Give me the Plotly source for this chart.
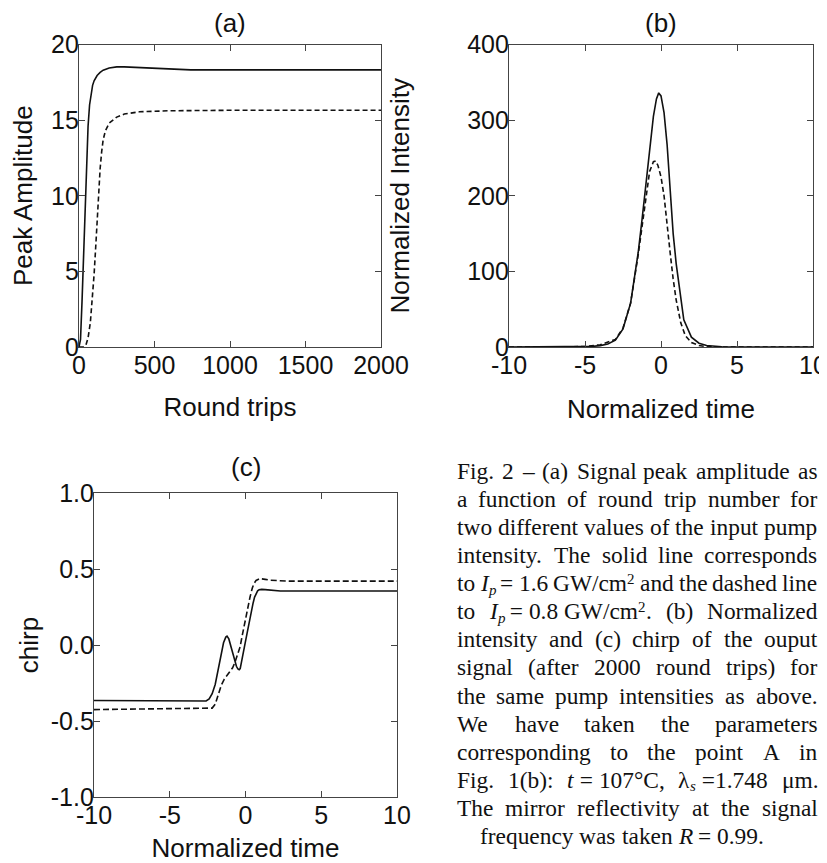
import re
import plotly.graph_objects as go

# The page body keeps the browser's default 8px margin, so the figure is 8px smaller
# than the 827x863 window and every layout position is measured from the window corner.
WIN_W, WIN_H, OFF = 827, 863, 8
W, H = WIN_W - OFF, WIN_H - OFF

# ---------------- data ----------------
# (a) peak amplitude vs round trips
a_rt_solid = [0, 10, 20, 30, 40, 50, 60, 70, 80, 90, 100, 120, 140, 160, 200, 250, 300,
              400, 500, 600, 700, 720, 740, 1000, 1500, 2000]
a_amp_solid = [0, 0.5, 3.0, 6.0, 9.2, 12.2, 14.6, 16.0, 16.8, 17.3, 17.6, 17.95, 18.15,
               18.3, 18.45, 18.52, 18.52, 18.47, 18.42, 18.38, 18.36, 18.34, 18.32,
               18.32, 18.32, 18.32]
a_rt_dash = [0, 30, 45, 60, 75, 90, 100, 110, 120, 130, 140, 150, 160, 175, 200, 250,
             300, 400, 600, 1000, 2000]
a_amp_dash = [0, 0, 0.1, 0.6, 1.6, 3.3, 4.8, 6.5, 8.5, 10.3, 11.8, 12.9, 13.7, 14.3,
              14.8, 15.2, 15.4, 15.55, 15.62, 15.65, 15.65]

# (b) normalized intensity vs normalized time
b_t_solid = [-10, -6, -5, -4.5, -4, -3.5, -3, -2.5, -2, -1.5, -1.25, -1, -0.75, -0.5,
             -0.3, -0.15, 0, 0.2, 0.4, 0.6, 0.8, 1.0, 1.25, 1.5, 2, 2.5, 3, 3.5, 4, 5, 10]
b_int_solid = [0, 0, 0.3, 0.8, 1.8, 4, 9, 24, 58, 125, 168, 215, 262, 305, 328, 336,
               332, 310, 268, 205, 150, 110, 72, 36, 13, 5, 2, 0.8, 0.3, 0, 0]
b_t_dash = [-10, -5, -4, -3.5, -3, -2.5, -2, -1.5, -1.25, -1, -0.75, -0.5, -0.35, -0.2,
            0, 0.2, 0.4, 0.6, 0.8, 1.0, 1.3, 1.6, 2, 2.5, 3, 4, 10]
b_int_dash = [0, 0.5, 3, 6, 10, 25, 58, 122, 160, 200, 232, 245, 246, 240, 225, 200,
              160, 125, 90, 62, 32, 15, 6, 2, 0.5, 0, 0]

# (c) chirp vs normalized time
c_t_solid = [-10, -5, -3, -2.6, -2.4, -2.2, -2.0, -1.8, -1.6, -1.45, -1.3, -1.22, -1.1,
             -1.0, -0.9, -0.8, -0.7, -0.6, -0.5, -0.42, -0.35, -0.25, -0.15, -0.03, 0.1,
             0.2, 0.3, 0.4, 0.5, 0.6, 0.7, 0.8, 0.9, 1.07, 1.3, 1.6, 2.0, 2.3, 3, 10]
c_chirp_solid = [-0.365, -0.37, -0.37, -0.368, -0.355, -0.32, -0.26, -0.16, -0.05, 0.015,
                 0.052, 0.058, 0.04, 0.005, -0.04, -0.08, -0.115, -0.14, -0.158, -0.163,
                 -0.155, -0.11, -0.05, 0.009, 0.075, 0.13, 0.184, 0.23, 0.275, 0.315,
                 0.342, 0.356, 0.363, 0.366, 0.364, 0.36, 0.358, 0.355, 0.355, 0.355]
c_t_dash = [-10, -5, -2.5, -2.2, -2.0, -1.8, -1.6, -1.4, -1.2, -1.0, -0.85, -0.7, -0.5,
            -0.36, -0.2, -0.03, 0.1, 0.3, 0.45, 0.56, 0.7, 0.96, 1.3, 1.62, 2.9, 10]
c_chirp_dash = [-0.425, -0.42, -0.42, -0.415, -0.39, -0.32, -0.265, -0.225, -0.195, -0.17,
                -0.15, -0.115, -0.06, -0.013, 0.07, 0.162, 0.23, 0.316, 0.375, 0.404,
                0.425, 0.437, 0.432, 0.426, 0.42, 0.42]

# tick labels
a_xticks = [0, 500, 1000, 1500, 2000]
a_yticks = [0, 5, 10, 15, 20]
t_ticks = [-10, -5, 0, 5, 10]
t_ticktext = ["-10", "-5", "0", "5", "10"]
b_yticks = [0, 100, 200, 300, 400]
c_yticks = [-1.0, -0.5, 0.0, 0.5, 1.0]
c_yticktext = ["-1.0", "-0.5", "0.0", "0.5", "1.0"]

caption_lines = [
    "Fig. 2 – (a) Signal peak amplitude as",
    "a function of round trip number for",
    "two different values of the input pump",
    "intensity. The solid line corresponds",
    "to <i>I</i><sub><i>p</i></sub> = 1.6 GW/cm<sup>2</sup> and the dashed line",
    "to <i>I</i><sub><i>p</i></sub>~=~0.8~GW/cm<sup>2</sup>. (b) Normalized",
    "intensity and (c) chirp of the ouput",
    "signal (after 2000 round trips) for",
    "the same pump intensities as above.",
    "We have taken the parameters",
    "corresponding to the point A in",
    "Fig. 1(b): <i>t</i>~=~107°C, λ<sub><i>s</i></sub>~=1.748 μm.",
    "The mirror reflectivity at the signal",
    "frequency was taken <i>R</i> = 0.99.",
]

# ---------------- styling ----------------
SANS = "Liberation Sans, Arial, sans-serif"
SERIF = "Liberation Serif, Times New Roman, serif"
INK = "#111111"
FRAME = "#444444"
TICK_FS = 25
TITLE_FS = 26

def px_x(p):
    return (p - OFF) / W

def px_y(p):
    return 1 - (p - OFF) / H

fig = go.Figure()

def line(x, y, xa, ya, dash):
    fig.add_trace(go.Scatter(x=x, y=y, mode="lines", xaxis=xa, yaxis=ya,
                             line=dict(color=INK, width=1.6, dash=dash),
                             showlegend=False, hoverinfo="skip"))

line(a_rt_solid, a_amp_solid, "x", "y", "solid")
line(a_rt_dash, a_amp_dash, "x", "y", "5px,3px")
line(b_t_solid, b_int_solid, "x2", "y2", "solid")
line(b_t_dash, b_int_dash, "x2", "y2", "5px,3px")
line(c_t_solid, c_chirp_solid, "x3", "y3", "solid")
line(c_t_dash, c_chirp_dash, "x3", "y3", "6px,3px")

def axis(domain, rng, tickvals, ticktext, title, standoff, anchor, lab_off):
    return dict(domain=domain, range=rng, tickvals=tickvals, ticktext=ticktext,
                ticks="inside", ticklen=6, tickwidth=1, tickcolor=FRAME,
                showline=True, linecolor=FRAME, linewidth=1.2, mirror="ticks",
                showgrid=False, zeroline=False, anchor=anchor, automargin=False,
                ticklabelstandoff=lab_off,
                tickfont=dict(family=SANS, size=TICK_FS, color=INK),
                title=dict(text=title, standoff=standoff,
                           font=dict(family=SANS, size=TITLE_FS, color=INK)))

ya_dom = [px_y(347), px_y(44.5)]
yc_dom = [px_y(797), px_y(493)]

fig.update_layout(
    width=W, height=H, autosize=False,
    margin=dict(l=0, r=0, t=0, b=0, pad=0),
    paper_bgcolor="white", plot_bgcolor="white",
    font=dict(family=SANS, color=INK),
    xaxis=axis([px_x(79), px_x(381)], [0, 2000], a_xticks, [str(v) for v in a_xticks],
               "Round trips", 19, "y", -4),
    yaxis=axis(ya_dom, [0, 20], a_yticks, [str(v) for v in a_yticks],
               "Peak Amplitude", 15, "x", -6),
    xaxis2=axis([px_x(509), px_x(813)], [-10, 10], t_ticks, t_ticktext,
                "Normalized time", 21, "y2", -4),
    yaxis2=axis(ya_dom, [0, 400], b_yticks, [str(v) for v in b_yticks],
                "Normalized Intensity", 50, "x2", -6),
    xaxis3=axis([px_x(94), px_x(397)], [-10, 10], t_ticks, t_ticktext,
                "Normalized time", 19, "y3", -4),
    yaxis3=axis(yc_dom, [-1, 1], c_yticks, c_yticktext, "chirp", 4, "x3", -6),
)

annotations = []
for label, cx, cy in [("(a)", 230, 22.8), ("(b)", 661, 22.8), ("(c)", 246, 467)]:
    annotations.append(dict(text=label, x=px_x(cx), y=px_y(cy), xref="paper", yref="paper",
                            xanchor="center", yanchor="middle", showarrow=False,
                            font=dict(family=SANS, size=TITLE_FS, color=INK)))

# ---------------- caption (justified Times text) ----------------
FS = 23.4
FS_SMALL = 15
REG = {' ': 250, '\u00a0': 250, '.': 250, ',': 250, ':': 278, '(': 333, ')': 333,
       '/': 278, '=': 564, '–': 500, '°': 400, 'μ': 500, 'λ': 500}
REG.update(dict.fromkeys('0123456789', 500))
REG.update({'a': 444, 'b': 500, 'c': 444, 'd': 500, 'e': 444, 'f': 333, 'g': 500,
            'h': 500, 'i': 278, 'j': 278, 'k': 500, 'l': 278, 'm': 778, 'n': 500,
            'o': 500, 'p': 500, 'q': 500, 'r': 333, 's': 389, 't': 278, 'u': 500,
            'v': 500, 'w': 722, 'x': 500, 'y': 500, 'z': 444,
            'A': 722, 'C': 667, 'F': 556, 'G': 722, 'N': 722, 'R': 667, 'T': 611,
            'W': 944})
ITA = {'I': 333, 'p': 500, 't': 278, 's': 389, 'R': 611}

def parse(unit):
    segs, italic, mode = [], False, "n"
    for tok in re.split(r"(</?(?:i|sub|sup)>)", unit):
        if tok == "<i>":
            italic = True
        elif tok == "</i>":
            italic = False
        elif tok in ("<sub>", "<sup>"):
            mode = tok[1:-1]
        elif tok in ("</sub>", "</sup>"):
            mode = "n"
        elif tok:
            segs.append((tok.replace("~", "\u00a0"), italic, mode))
    return segs

def seg_width(text, italic, mode):
    size = FS if mode == "n" else FS_SMALL
    tot = sum((ITA[ch] if italic and ch in ITA else REG.get(ch, 500)) for ch in text)
    return tot / 1000 * size

CAP_LEFT, CAP_RIGHT = 456.5, 817.5
BASE0, LEAD = 479.0, 28.05
LAST_INDENT = 480.0
SHIFT = {"n": 0.0, "sub": 4.0, "sup": -7.5}

for li, ln in enumerate(caption_lines):
    units = ln.split(" ")
    parsed = [parse(u) for u in units]
    widths = [sum(seg_width(*s) for s in p) for p in parsed]
    baseline = BASE0 + li * LEAD
    if li < len(caption_lines) - 1:
        gap = (CAP_RIGHT - CAP_LEFT - sum(widths)) / (len(units) - 1)
        x = CAP_LEFT
    else:
        gap = 0.25 * FS
        x = LAST_INDENT
    for p, w in zip(parsed, widths):
        cx = x
        for text, italic, mode in p:
            size = FS if mode == "n" else FS_SMALL
            ymid = baseline + SHIFT[mode] - 0.3375 * size
            txt = f"<i>{text}</i>" if italic else text
            annotations.append(dict(text=txt, x=px_x(cx), y=px_y(ymid), xref="paper",
                                    yref="paper", xanchor="left", yanchor="middle",
                                    showarrow=False, borderpad=0, borderwidth=0,
                                    font=dict(family=SERIF, size=size, color=INK)))
            cx += seg_width(text, italic, mode)
        x += w + gap

fig.update_layout(annotations=annotations)
fig.write_html("out.html")
